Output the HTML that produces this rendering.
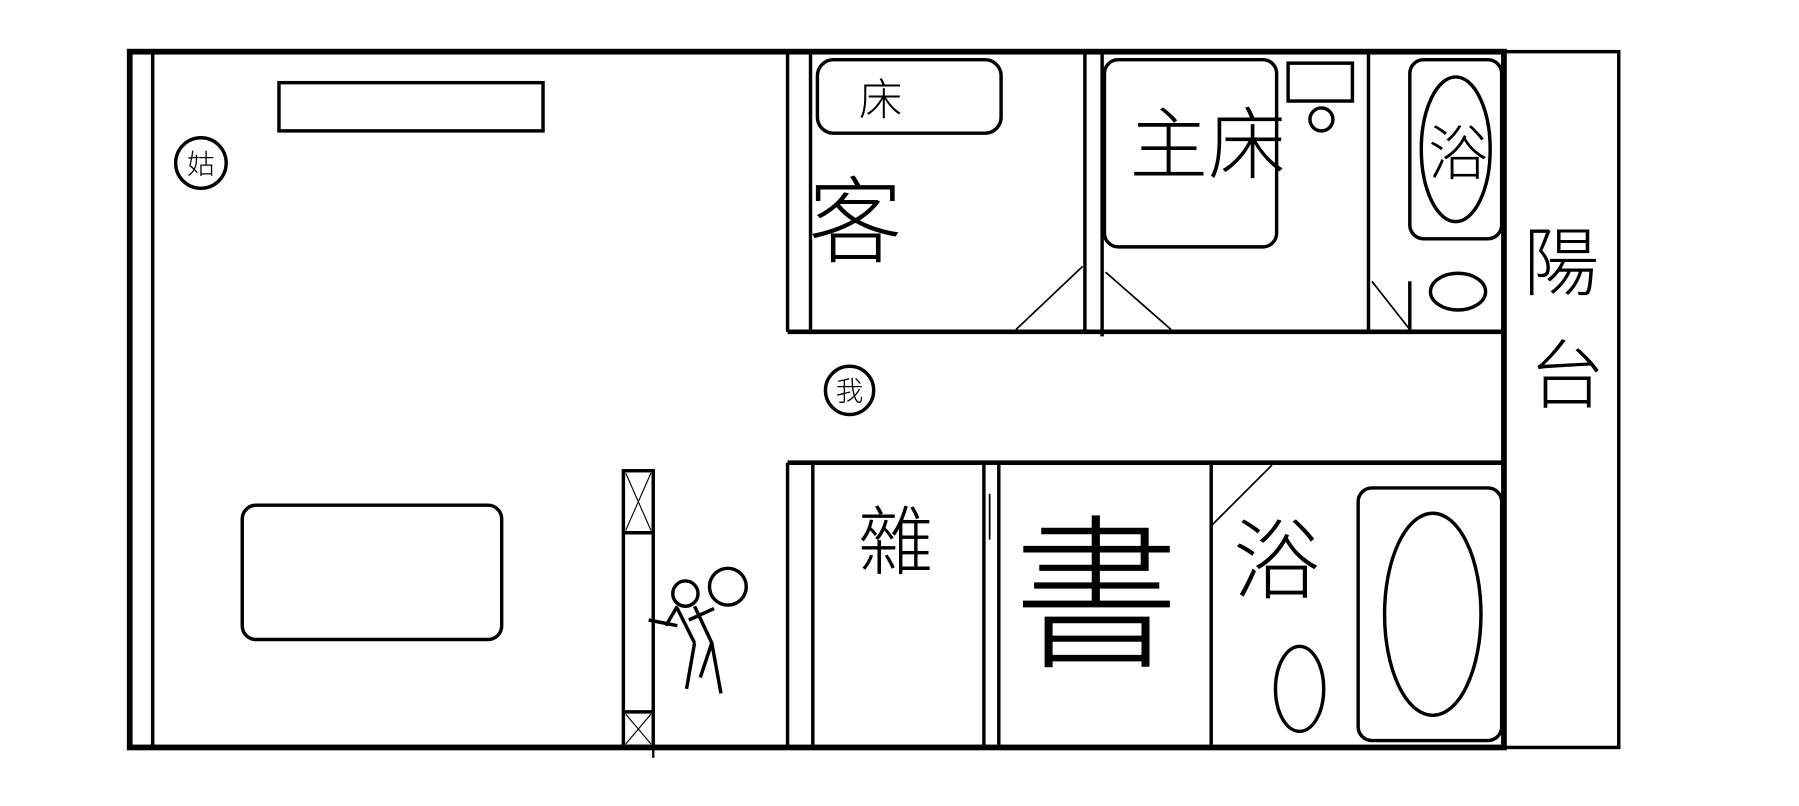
<!DOCTYPE html>
<html><head><meta charset="utf-8"><style>
html,body{margin:0;padding:0;background:#fff;width:1799px;height:806px;overflow:hidden}
svg{display:block}
text{font-family:"Liberation Sans","Noto Sans CJK TC","WenQuanYi Zen Hei",sans-serif;fill:#000;font-weight:300}
</style></head><body>
<svg width="1799" height="806" viewBox="0 0 1567 702" preserveAspectRatio="none" xmlns="http://www.w3.org/2000/svg">
<g fill="none" stroke="#000" stroke-width="3">
<rect x="113" y="45" width="1197" height="606" stroke-width="5"/>
<line x1="133" y1="45" x2="133" y2="651"/>
<rect x="1310" y="45" width="100" height="606"/>
<rect x="243" y="72" width="230" height="42"/>
<circle cx="175" cy="142" r="22"/>
<rect x="211" y="440" width="226" height="117" rx="12"/>
<rect x="543" y="410" width="26" height="240"/>
<line x1="543" y1="464" x2="569" y2="464"/>
<line x1="543" y1="620" x2="569" y2="620"/>
<line x1="545" y1="412" x2="567" y2="462" stroke-width="1"/><line x1="567" y1="412" x2="545" y2="462" stroke-width="1"/>
<line x1="545" y1="622" x2="567" y2="648" stroke-width="1"/><line x1="567" y1="622" x2="545" y2="648" stroke-width="1"/>
<line x1="569" y1="645" x2="569" y2="660" stroke-width="2"/>
<circle cx="634" cy="511" r="16"/><circle cx="597" cy="517" r="11"/>
<path d="M605 528 L620 560 L610 590 M620 560 L628 604 M590 528 L580 545 M600 540 L622 530 M605 560 L598 600 M590 530 L605 560 M565 540 L590 545"/>
<line x1="686" y1="45" x2="686" y2="289"/>
<line x1="706" y1="45" x2="706" y2="289"/>
<line x1="686" y1="289" x2="1310" y2="289" stroke-width="4"/>
<line x1="945" y1="45" x2="945" y2="289"/>
<line x1="960" y1="45" x2="960" y2="293"/>
<line x1="1192" y1="45" x2="1192" y2="289"/>
<rect x="712" y="52" width="160" height="64" rx="14"/>
<rect x="962" y="52" width="150" height="163" rx="12"/>
<rect x="1122" y="55" width="56" height="33"/>
<circle cx="1151" cy="104" r="10"/>
<rect x="1228" y="52" width="80" height="156" rx="12"/>
<ellipse cx="1268" cy="130" rx="30" ry="63"/>
<ellipse cx="1270" cy="254" rx="24" ry="16"/>
<line x1="885" y1="287" x2="943" y2="232" stroke-width="1.5"/>
<line x1="963" y1="237" x2="1020" y2="287" stroke-width="1.5"/>
<line x1="1195" y1="245" x2="1228" y2="287" stroke-width="1.5"/>
<line x1="1228" y1="245" x2="1228" y2="289"/>
<circle cx="740" cy="340" r="21"/>
<line x1="686" y1="403" x2="1310" y2="403" stroke-width="4"/>
<line x1="686" y1="403" x2="686" y2="651"/>
<line x1="708" y1="403" x2="708" y2="651"/>
<line x1="857" y1="403" x2="857" y2="651"/>
<line x1="870" y1="403" x2="870" y2="651"/>
<line x1="862" y1="430" x2="862" y2="470" stroke-width="1.5"/>
<line x1="1055" y1="403" x2="1055" y2="651"/>
<line x1="1055" y1="458" x2="1108" y2="405" stroke-width="1.5"/>
<rect x="1183" y="425" width="125" height="220" rx="12"/>
<ellipse cx="1248" cy="535" rx="42" ry="88"/>
<ellipse cx="1132" cy="600" rx="21" ry="37"/>
</g>
<text x="175" y="151" font-size="24" text-anchor="middle">姑</text>
<text x="740" y="349" font-size="24" text-anchor="middle">我</text>
<text x="767" y="100" font-size="38" text-anchor="middle">床</text>
<text x="745" y="222" font-size="82" text-anchor="middle">客</text>
<text x="1052" y="150" font-size="68" text-anchor="middle">主床</text>
<text x="1270" y="152" font-size="52" text-anchor="middle">浴</text>
<text x="1360" y="252" font-size="66" text-anchor="middle">陽</text>
<text x="1365" y="350" font-size="66" text-anchor="middle">台</text>
<text x="780" y="495" font-size="66" text-anchor="middle">雜</text>
<text x="955" y="570" font-size="145" text-anchor="middle" style="font-weight:200">書</text>
<text x="1112" y="515" font-size="76" text-anchor="middle">浴</text>
</svg>
</body></html>
